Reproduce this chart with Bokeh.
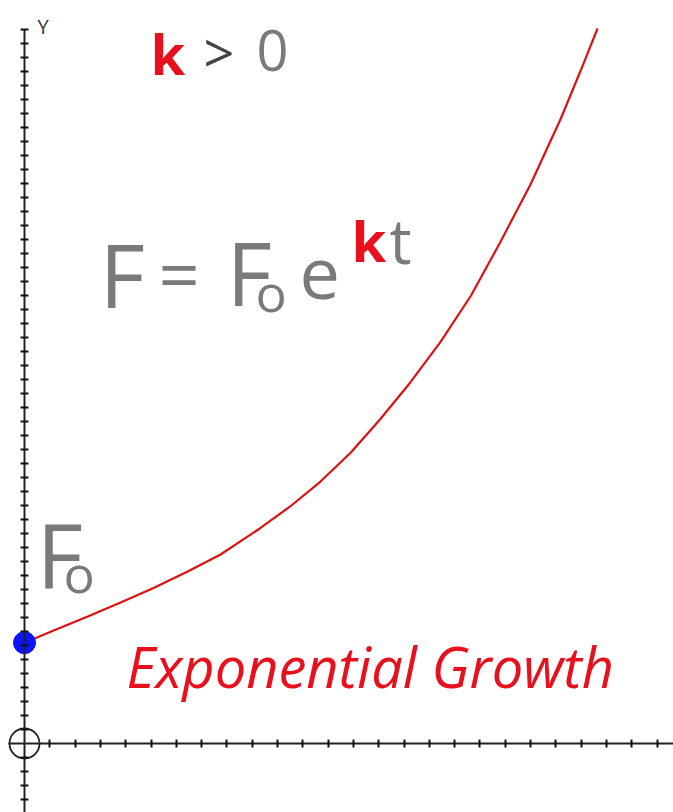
from bokeh.plotting import figure
from bokeh.models import Range1d, LinearAxis, FixedTicker, Label, CustomJSTickFormatter
from bokeh.embed import file_html
from bokeh.resources import INLINE

# Growth curve F = F0 * e^(k t), sampled values (t in x-tick units, F in y-tick units)
t_vals = [0, 1.2, 2.5, 3.8, 5.1, 6.45, 7.75, 9.3, 10.5, 11.7, 12.9, 14.05,
          15.25, 16.45, 17.65, 18.8, 20.0, 21.2, 22.0, 22.65]
f_vals = [7.2, 8.1, 9.07, 10.07, 11.1, 12.29, 13.5, 15.36, 16.93, 18.71, 20.79, 23.14,
          25.79, 28.71, 32.0, 35.79, 39.93, 44.64, 48.14, 51.07]

x_ticks = list(range(1, 26))
y_ticks = [v for v in range(-4, 52) if v != 0]

W, H = 673, 812
# pixel position of the origin and pixels per tick
X0, Y0, SX, SY = 24, 743, 25.3, 14.0


def dx(px):
    return (px - X0) / SX


def dy(py):
    return (Y0 - py) / SY


p = figure(width=W, height=H,
           x_range=Range1d(dx(0), dx(W)), y_range=Range1d(dy(H), dy(0)),
           x_axis_type=None, y_axis_type=None,
           output_backend="svg", toolbar_location=None,
           min_border=0, outline_line_color=None,
           background_fill_color="white", border_fill_color="white")
p.xgrid.visible = False
p.ygrid.visible = False

no_labels = CustomJSTickFormatter(code="return ''")
axis_style = dict(fixed_location=0, major_tick_in=4, major_tick_out=4,
                  minor_tick_line_color=None, formatter=no_labels,
                  major_label_standoff=0, axis_line_width=2, axis_line_color="#222222",
                  major_tick_line_width=2, major_tick_line_color="#111111")

xaxis = LinearAxis(ticker=FixedTicker(ticks=x_ticks), bounds=(dx(8), dx(W)), **axis_style)
yaxis = LinearAxis(ticker=FixedTicker(ticks=y_ticks + [51]), bounds=(dy(H), 51), **axis_style)
p.add_layout(xaxis, "below")
p.add_layout(yaxis, "left")

# origin marker
p.scatter([0], [0], size=30, fill_color=None, line_color="#222222", line_width=1.8)

# the curve and its starting value F0
p.line(t_vals, f_vals, line_color="#dd1111", line_width=2.2)
p.scatter([t_vals[0]], [f_vals[0]], size=22, fill_color="#0a14ff", line_color="#0a14ff")

GRAY = "#7a7a7a"
RED = "#e8101c"
FONT = "Open Sans"


def label(text, px, py, size, color, style="normal"):
    # py is the wanted baseline in page pixels (alphabetic anchor sits ~0.41em low)
    p.add_layout(Label(x=dx(px), y=dy(py - 0.41 * size), text=text, text_font=FONT,
                       text_font_size=f"{size}px", text_color=color,
                       text_font_style=style, text_baseline="alphabetic",
                       text_align="left"))


# axis name
label("Y", 37, 34, 20, "#333333")

# k > 0
label("k", 150, 75, 56, RED, "bold")
label(">", 203, 74, 54, "#444444")
label("0", 256, 73, 56, GRAY)

# F = F0 e^(kt)
label("F", 99, 310, 88, GRAY)
label("=", 158, 302, 72, GRAY)
label("F", 226, 308, 88, GRAY)
label("o", 255, 312, 52, GRAY)
label("e", 299, 302, 72, GRAY)
label("k", 351, 262, 56, RED, "bold")
label("t", 389, 265, 62, GRAY)

# F0 next to the starting point
label("F", 36, 590, 90, GRAY)
label("o", 63, 593, 52, GRAY)

label("Exponential Growth", 126, 688, 56, RED, "italic")

open("out.html", "w").write(file_html(p, INLINE))
